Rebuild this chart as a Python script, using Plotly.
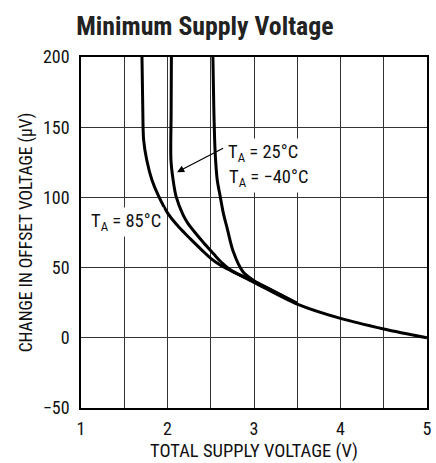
import plotly.graph_objects as go

# Change in offset voltage vs. total supply voltage at three temperatures
x_85 = [1.705, 1.715, 1.724, 1.76, 1.82, 1.90, 2.00, 2.10, 2.20, 2.30, 2.40, 2.50, 2.60, 2.70, 3.00, 3.50, 4.00, 4.50, 5.00]
y_85 = [200, 160, 141, 126.6, 112.4, 100.5, 89, 81, 74.5, 68.3, 62.3, 56.6, 52.2, 48.8, 39.5, 24, 13.8, 6.3, 0]

x_25 = [2.045, 2.042, 2.04, 2.065, 2.10, 2.18, 2.236, 2.42, 2.53, 2.62, 2.75, 3.00, 3.50]
y_25 = [200, 160, 126.6, 112.4, 100.5, 87.5, 81.5, 67.5, 60, 54, 47.5, 40.2, 24.4]

x_m40 = [2.525, 2.535, 2.545, 2.556, 2.575, 2.61, 2.65, 2.69, 2.76, 2.87, 3.00, 3.16, 3.50]
y_m40 = [200, 165, 141, 126.6, 112.4, 100.5, 87.5, 78, 61.4, 47.2, 40.6, 35.4, 24.5]

x_ticks = [1, 2, 3, 4, 5]
x_tick_text = ["1", "2", "3", "4", "5"]
x_minor = [1.5, 2.5, 3.5, 4.5]
y_ticks = [-50, 0, 50, 100, 150, 200]
y_tick_text = ["\u221250", "0", "50", "100", "150", "200"]

FONT = "Arial Narrow, Liberation Sans Narrow, Roboto Condensed, sans-serif"
INK = "#111111"
GRID = "#333333"

fig = go.Figure()
for xs, ys in [(x_85, y_85), (x_25, y_25), (x_m40, y_m40)]:
    fig.add_trace(go.Scatter(
        x=xs, y=ys, mode="lines",
        line=dict(color="black", width=3, shape="spline", smoothing=0.9),
        showlegend=False, hoverinfo="skip",
    ))

axis_common = dict(
    showline=True, linecolor="black", linewidth=1.5, mirror=True,
    showgrid=True, gridcolor=GRID, gridwidth=1,
    zeroline=False, ticks="", tickfont=dict(family=FONT, size=18, color=INK),
)

fig.update_xaxes(
    range=[1, 5], tickmode="array", tickvals=x_ticks, ticktext=x_tick_text,
    minor=dict(tickvals=x_minor, showgrid=True, gridcolor=GRID, gridwidth=1),
    ticklabelstandoff=4,
    title=dict(text="TOTAL SUPPLY VOLTAGE (V)", font=dict(family=FONT, size=18.5, color=INK), standoff=6),
    **axis_common,
)
fig.update_yaxes(
    range=[-50, 200], tickmode="array", tickvals=y_ticks, ticktext=y_tick_text,
    ticklabelstandoff=6,
    title=dict(text="CHANGE IN OFFSET VOLTAGE (\u03bcV)", font=dict(family=FONT, size=17.5, color=INK), standoff=6),
    **axis_common,
)

label_font = dict(family=FONT, size=18.5, color=INK)
fig.add_annotation(x=2.665, y=131.8, text="T<sub>A</sub> = 25°C", showarrow=False,
                   xanchor="left", yanchor="middle", font=label_font, bgcolor="white", borderpad=2)
fig.add_annotation(x=2.676, y=113.8, text="T<sub>A</sub> = \u221240°C", showarrow=False,
                   xanchor="left", yanchor="middle", font=label_font, bgcolor="white", borderpad=2)
fig.add_annotation(x=1.08, y=82.7, text="T<sub>A</sub> = 85°C", showarrow=False,
                   xanchor="left", yanchor="middle", font=label_font, bgcolor="white", borderpad=2)
# leader arrow from the 25°C label to its curve
fig.add_annotation(x=2.11, y=118, ax=2.66, ay=135.5, axref="x", ayref="y",
                   text="", showarrow=True, arrowhead=2, arrowsize=1.2, arrowwidth=1.2,
                   arrowcolor="black")

fig.update_layout(
    width=436, height=463,
    margin=dict(l=81, r=4, t=57, b=55),
    paper_bgcolor="white", plot_bgcolor="white",
    title=dict(text="<b>Minimum Supply Voltage</b>", x=0.47, xanchor="center", y=0.944, yanchor="middle",
               font=dict(family=FONT, size=25.8, color="#222222")),
)

fig.write_html("out.html")
